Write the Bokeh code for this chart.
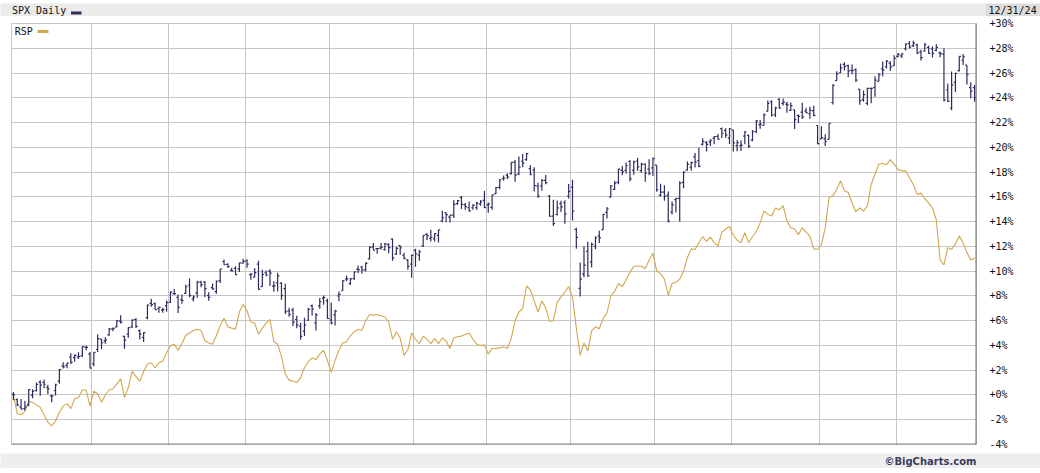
from bokeh.plotting import figure
from bokeh.models import (Range1d, LinearAxis, FixedTicker, Grid, Span,
                          CustomJSTickFormatter, ColumnDataSource)
from bokeh.core.properties import value
from bokeh.embed import file_html
from bokeh.resources import INLINE

# ---------------- data ----------------
# trading days per month, 2024
month_trading_days = [21, 20, 20, 22, 22, 19, 22, 22, 20, 23, 20, 21]
# base for the percent scale: SPX close on the first bar (Jan 2, 2024)
spx_base = 4742.83

spx_open = [
    # Jan
    4745, 4725, 4697, 4691, 4704, 4742, 4760, 4792, 4791, 4772, 4739, 4760, 4796, 4853, 4856, 4888, 4886, 4888, 4893, 4925, 4899,
    # Feb
    4862, 4917, 4957, 4950, 4973, 4996, 5004, 5026, 4967, 4976, 5004, 5032, 4989, 4963, 5038, 5094, 5093, 5074, 5068, 5085,
    # Mar
    5098, 5131, 5117, 5108, 5132, 5164, 5111, 5134, 5174, 5175, 5123, 5154, 5139, 5181, 5254, 5243, 5220, 5228, 5226, 5248,
    # Apr
    5257, 5204, 5194, 5244, 5158, 5211, 5217, 5160, 5172, 5171, 5150, 5065, 5068, 5032, 5006, 4987, 5029, 5085, 5019, 5084, 5114, 5103,
    # May
    5030, 5050, 5122, 5142, 5187, 5169, 5189, 5225, 5233, 5222, 5264, 5310, 5303, 5305, 5299, 5319, 5340, 5282, 5315, 5278, 5260, 5244,
    # Jun
    5297, 5278, 5314, 5358, 5343, 5341, 5354, 5409, 5441, 5424, 5432, 5476, 5500, 5471, 5460, 5460, 5460, 5474, 5488,
    # Jul
    5471, 5461, 5514, 5538, 5572, 5585, 5591, 5635, 5590, 5638, 5644, 5610, 5604, 5543, 5544, 5565, 5505, 5428, 5434, 5476, 5479, 5505,
    # Aug
    5538, 5377, 5151, 5206, 5293, 5253, 5312, 5351, 5376, 5442, 5501, 5530, 5557, 5603, 5603, 5637, 5603, 5639, 5602, 5627, 5608, 5613,
    # Sep
    5623, 5507, 5520, 5507, 5443, 5491, 5496, 5557, 5604, 5615, 5655, 5641, 5703, 5709, 5712, 5727, 5733, 5763, 5756, 5727,
    # Oct
    5758, 5698, 5698, 5734, 5737, 5719, 5752, 5778, 5775, 5830, 5866, 5816, 5875, 5860, 5857, 5833, 5835, 5813, 5826, 5831, 5820, 5832, 5775,
    # Nov
    5724, 5724, 5722, 5863, 5947, 5977, 6009, 6004, 5986, 5989, 5913, 5874, 5860, 5917, 5921, 5944, 5992, 6000, 6014, 6004,
    # Dec
    6040, 6042, 6069, 6089, 6081, 6084, 6057, 6060, 6074, 6068, 6063, 6053, 6048, 5912, 5842, 5940, 5985, 6025, 6006, 5920, 5920,
]

spx_high = [
    4754, 4729, 4727, 4721, 4765, 4765, 4791, 4799, 4802, 4782, 4744, 4786, 4842, 4868, 4866, 4903, 4898, 4906, 4929, 4932, 4907,
    4906, 4975, 4957, 4964, 4999, 5001, 5030, 5048, 4970, 5002, 5033, 5038, 4994, 4983, 5088, 5111, 5097, 5081, 5077, 5105,
    5140, 5149, 5128, 5128, 5165, 5189, 5125, 5180, 5180, 5179, 5136, 5170, 5181, 5225, 5262, 5247, 5230, 5236, 5249, 5264,
    5263, 5209, 5228, 5257, 5222, 5220, 5224, 5178, 5211, 5175, 5169, 5077, 5077, 5046, 5019, 5039, 5077, 5089, 5057, 5114, 5124, 5111,
    5096, 5069, 5139, 5181, 5200, 5191, 5215, 5239, 5238, 5251, 5312, 5325, 5305, 5325, 5325, 5324, 5342, 5311, 5316, 5288, 5263, 5281,
    5303, 5298, 5354, 5362, 5376, 5362, 5376, 5448, 5442, 5432, 5489, 5490, 5505, 5478, 5484, 5473, 5483, 5490, 5524,
    5480, 5510, 5539, 5570, 5583, 5591, 5635, 5643, 5656, 5666, 5670, 5623, 5615, 5556, 5570, 5585, 5509, 5491, 5488, 5487, 5489, 5551,
    5567, 5383, 5250, 5312, 5330, 5327, 5351, 5372, 5436, 5463, 5547, 5562, 5609, 5620, 5633, 5643, 5641, 5651, 5632, 5629, 5646, 5652,
    5623, 5552, 5546, 5522, 5484, 5497, 5561, 5600, 5637, 5637, 5670, 5690, 5726, 5716, 5722, 5735, 5742, 5767, 5764, 5765,
    5758, 5719, 5718, 5753, 5740, 5758, 5796, 5796, 5822, 5871, 5872, 5847, 5879, 5878, 5866, 5863, 5835, 5817, 5862, 5843, 5847, 5851, 5775,
    5772, 5741, 5784, 5933, 5983, 6012, 6017, 6009, 6009, 5993, 5915, 5909, 5920, 5920, 5964, 5976, 6020, 6026, 6021, 6044,
    6053, 6052, 6089, 6099, 6100, 6088, 6065, 6092, 6080, 6078, 6086, 6058, 6071, 5936, 5982, 5978, 6040, 6049, 6006, 5941, 5930,
]

spx_low = [
    4723, 4700, 4688, 4682, 4700, 4730, 4756, 4740, 4769, 4747, 4715, 4741, 4786, 4844, 4845, 4861, 4870, 4881, 4888, 4914, 4845,
    4853, 4907, 4918, 4939, 4970, 4987, 5002, 5017, 4920, 4962, 4999, 4999, 4955, 4946, 5033, 5081, 5069, 5058, 5058, 5062,
    5095, 5127, 5057, 5092, 5131, 5117, 5101, 5115, 5155, 5118, 5104, 5146, 5131, 5172, 5241, 5229, 5216, 5203, 5214, 5246,
    5230, 5184, 5194, 5146, 5157, 5198, 5160, 5138, 5139, 5108, 5053, 5042, 5007, 4998, 4954, 4969, 5027, 5047, 4990, 5073, 5088, 5035,
    5014, 5009, 5102, 5142, 5178, 5165, 5183, 5210, 5207, 5216, 5263, 5297, 5284, 5300, 5295, 5286, 5257, 5279, 5280, 5263, 5222, 5192,
    5234, 5257, 5310, 5336, 5331, 5331, 5327, 5404, 5404, 5403, 5421, 5471, 5455, 5452, 5446, 5452, 5452, 5468, 5459,
    5441, 5452, 5513, 5531, 5563, 5570, 5587, 5560, 5584, 5615, 5640, 5584, 5522, 5497, 5525, 5550, 5427, 5390, 5430, 5444, 5399, 5495,
    5411, 5303, 5120, 5194, 5196, 5231, 5301, 5325, 5376, 5419, 5500, 5528, 5550, 5584, 5591, 5561, 5586, 5602, 5594, 5560, 5584, 5582,
    5521, 5503, 5487, 5403, 5434, 5442, 5406, 5535, 5603, 5602, 5614, 5615, 5698, 5675, 5696, 5703, 5721, 5727, 5728, 5704,
    5675, 5676, 5677, 5703, 5689, 5715, 5745, 5763, 5775, 5829, 5809, 5808, 5840, 5852, 5824, 5831, 5762, 5785, 5800, 5823, 5801, 5810, 5703,
    5723, 5696, 5722, 5855, 5947, 5976, 5986, 5960, 5971, 5942, 5854, 5866, 5853, 5860, 5885, 5944, 5964, 5993, 5985, 6004,
    6035, 6034, 6062, 6070, 6076, 6048, 6024, 6059, 6050, 6035, 6059, 6036, 5867, 5866, 5833, 5903, 5982, 6007, 5932, 5879, 5866,
]

spx_close = [
    4742.83, 4704.81, 4688.68, 4697.24, 4763.54, 4756.50, 4783.45, 4780.24, 4783.83, 4765.98, 4739.21, 4780.94, 4839.81, 4850.43, 4864.60, 4868.55, 4894.16, 4890.97, 4927.93, 4924.97, 4845.65,
    4906.19, 4958.61, 4942.81, 4954.23, 4995.06, 4997.91, 5026.61, 5021.84, 4953.17, 5000.62, 5029.73, 5005.57, 4975.51, 4981.80, 5087.03, 5088.80, 5069.53, 5078.18, 5069.76, 5096.27,
    5137.08, 5130.95, 5078.65, 5104.76, 5157.36, 5123.69, 5117.94, 5175.27, 5165.31, 5150.48, 5117.09, 5149.42, 5178.51, 5224.62, 5241.53, 5234.18, 5218.19, 5203.58, 5248.49, 5254.35,
    5243.77, 5205.81, 5211.49, 5147.21, 5204.34, 5202.39, 5209.91, 5160.64, 5199.06, 5123.41, 5061.82, 5051.41, 5022.21, 5011.12, 4967.23, 5010.60, 5070.55, 5071.63, 5048.42, 5099.96, 5116.17, 5035.69,
    5018.39, 5064.20, 5127.79, 5180.74, 5187.70, 5187.67, 5214.08, 5222.68, 5221.42, 5246.68, 5308.15, 5297.10, 5303.27, 5308.13, 5321.41, 5307.01, 5267.84, 5304.72, 5306.04, 5266.95, 5235.48, 5277.51,
    5283.40, 5291.34, 5354.03, 5352.96, 5346.99, 5360.79, 5375.32, 5421.03, 5433.74, 5431.60, 5473.23, 5487.03, 5473.17, 5464.62, 5447.87, 5469.30, 5477.90, 5482.87, 5460.48,
    5475.09, 5509.01, 5537.02, 5567.19, 5572.85, 5576.98, 5633.91, 5584.54, 5615.35, 5631.22, 5667.20, 5588.27, 5544.59, 5505.00, 5564.41, 5555.74, 5427.13, 5399.22, 5459.10, 5463.54, 5436.44, 5522.30,
    5446.68, 5346.56, 5186.33, 5240.03, 5199.50, 5319.31, 5344.16, 5344.39, 5434.43, 5455.21, 5543.22, 5554.25, 5608.25, 5597.12, 5620.85, 5570.64, 5634.61, 5616.84, 5625.80, 5592.18, 5591.96, 5648.40,
    5528.93, 5520.07, 5503.41, 5408.42, 5471.05, 5495.52, 5554.13, 5595.76, 5626.02, 5633.09, 5634.58, 5618.26, 5713.64, 5702.55, 5718.57, 5732.93, 5722.26, 5745.37, 5738.17, 5762.48,
    5708.75, 5709.54, 5699.94, 5751.07, 5695.94, 5751.13, 5792.04, 5780.05, 5815.03, 5859.85, 5815.26, 5842.47, 5841.47, 5864.67, 5853.98, 5851.20, 5797.42, 5809.86, 5808.12, 5823.52, 5832.92, 5813.67, 5705.45,
    5728.80, 5712.69, 5782.76, 5929.04, 5973.10, 5995.54, 6001.35, 5983.99, 5985.38, 5949.17, 5870.62, 5893.62, 5916.98, 5917.11, 5948.71, 5969.34, 5987.37, 6021.63, 5998.74, 6032.38,
    6047.15, 6049.88, 6086.49, 6075.11, 6090.27, 6052.85, 6034.91, 6084.19, 6051.25, 6051.09, 6074.08, 6050.61, 5872.16, 5867.08, 5930.85, 5974.07, 6040.04, 6037.59, 5970.84, 5906.94, 5881.63,
]

# RSP, percent change since the first bar
rsp_pct = [
    0.0, -1.5, -1.6, -1.3, -0.5, -0.6, -0.8, -1.0, -1.6, -2.2,
    -2.5, -2.1, -1.4, -0.9, -0.7, -1.1, -0.3, -0.2, 0.4, 0.4,
    -0.9, 0.3, 0.1, -0.6, 0.0, 0.4, 0.5, 0.9, 1.3, -0.2,
    0.6, 1.9, 1.5, 1.1, 1.9, 2.5, 2.6, 2.2, 2.6, 2.75,
    3.4, 4.0, 4.1, 3.6, 4.15, 4.8, 5.0, 5.2, 5.3, 5.2,
    4.4, 4.2, 4.1, 4.8, 5.6, 6.2, 5.5, 5.4, 5.3, 6.7,
    7.3, 6.8, 5.9, 5.8, 4.9, 5.4, 5.8, 6.1, 4.3, 4.1,
    3.1, 1.7, 1.2, 1.1, 1.0, 1.4, 2.2, 2.7, 3.0, 2.85,
    3.3, 3.6, 2.8, 1.85, 2.8, 3.6, 4.2, 4.3, 4.8, 5.1,
    5.3, 5.2, 6.0, 6.5, 6.45, 6.5, 6.4, 6.3, 5.9, 4.5,
    5.1, 4.6, 3.2, 3.65, 5.0, 4.5, 4.15, 4.75, 4.5, 4.15,
    4.55, 4.15, 4.6, 4.35, 3.75, 4.6, 4.7, 4.75, 4.9, 5.0,
    4.5, 4.1, 4.0, 4.05, 3.3, 3.75, 3.75, 3.8, 3.9, 3.75,
    4.55, 6.0, 6.7, 7.0, 8.8, 8.5, 7.6, 6.7, 7.6, 7.05,
    5.95, 6.0, 7.5, 7.9, 8.3, 8.75, 7.9, 5.4, 3.2, 4.2,
    3.55, 5.2, 5.5, 5.35, 6.2, 6.6, 8.0, 8.35, 9.0, 8.75,
    9.3, 9.9, 10.4, 10.4, 10.4, 10.2, 10.9, 11.45, 10.0, 9.8,
    9.35, 8.05, 9.0, 9.1, 9.35, 10.0, 11.1, 11.8, 11.75, 12.3,
    12.8, 12.4, 12.75, 12.3, 12.05, 13.15, 13.4, 13.6, 12.9, 12.5,
    12.3, 13.1, 12.3, 12.8, 13.2, 13.9, 14.85, 14.6, 14.45, 15.1,
    14.95, 15.3, 14.05, 13.5, 13.4, 12.95, 13.5, 13.15, 12.8, 11.8,
    11.75, 12.15, 13.5, 15.95, 16.1, 16.6, 17.3, 16.5, 16.35, 15.5,
    14.8, 15.1, 14.85, 15.25, 17.0, 17.85, 18.65, 18.7, 18.6, 19.0,
    18.65, 18.2, 18.1, 18.1, 17.55, 17.0, 16.2, 16.3, 15.85, 15.5,
    15.1, 14.15, 10.9, 10.5, 11.9, 11.75, 12.2, 12.85, 12.3, 11.5,
    10.9, 11.05,
]

y_ticks = list(range(-4, 31, 2))
header_title = "SPX Daily"
compare_title = "RSP"
end_date = "12/31/24"
credit = "\u00a9BigCharts.com"

# ---------------- styles ----------------
NAVY = "#2c2c5e"
GOLD = "#d2a74e"
GRID = "#c6c6c6"
MONO = "DejaVu Sans Mono"

n = len(spx_close)
assert all(len(a) == n for a in (spx_open, spx_high, spx_low, rsp_pct))
assert sum(month_trading_days) == n

def pct(v):
    return (v / spx_base - 1.0) * 100.0

x = [i + 0.5 for i in range(n)]
tick = 0.45
src = ColumnDataSource(dict(
    x=x,
    xl=[v - tick for v in x],
    xr=[v + tick for v in x],
    o=[pct(v) for v in spx_open],
    h=[pct(v) for v in spx_high],
    l=[pct(v) for v in spx_low],
    c=[pct(v) for v in spx_close],
    rsp=rsp_pct,
))

month_bounds = []
acc = 0
for d in month_trading_days[:-1]:
    acc += d
    month_bounds.append(acc)

W, H = 1040, 473
FL, FR, FT, FB = 11, 976, 23, 444   # frame edges in page pixels

p = figure(width=W, height=H, x_range=Range1d(0, n), y_range=Range1d(-4, 30),
           x_axis_type=None, y_axis_type=None, output_backend="svg", toolbar_location=None,
           min_border_left=FL, min_border_right=W - FR, min_border_top=FT, min_border_bottom=H - FB,
           outline_line_color=GRID, background_fill_color="white", border_fill_color="white")

yaxis = LinearAxis(
    ticker=FixedTicker(ticks=y_ticks),
    formatter=CustomJSTickFormatter(code="return (tick >= 0 ? '+' : '') + tick.toFixed(0) + '%';"),
    axis_line_color=None, major_tick_line_color=None, minor_tick_line_color=None,
    major_tick_in=0, major_tick_out=0, major_label_standoff=13,
    major_label_text_font=MONO, major_label_text_font_size="10px",
    major_label_text_color="#111111",
)
p.add_layout(yaxis, "right")

p.add_layout(Grid(dimension=1, ticker=FixedTicker(ticks=y_ticks), grid_line_color=GRID))
p.add_layout(Grid(dimension=0, ticker=FixedTicker(ticks=month_bounds), grid_line_color=GRID))

p.line("x", "rsp", source=src, line_color=GOLD, line_width=1.1)
p.segment("x", "l", "x", "h", source=src, line_color=NAVY, line_width=1.2)
p.segment("xl", "o", "x", "o", source=src, line_color=NAVY, line_width=1.2)
p.segment("x", "c", "xr", "c", source=src, line_color=NAVY, line_width=1.2)

p.add_layout(Span(location=-4, dimension="width", line_color="#858585", line_width=2))
p.add_layout(Span(location=n, dimension="height", line_color="#707070", line_width=2))

# page pixel -> data helpers for the decorations around the frame
def px_x(px):
    return (px - FL) / (FR - FL) * n

def px_y(py):
    return 30 - (py - FT) / (FB - FT) * 34

# header bar, date box, footer bar (overlay level: drawn outside the frame)
p.quad(left=[px_x(0), px_x(985), px_x(0)], right=[px_x(985), px_x(W), px_x(W)],
       top=[px_y(3), px_y(3), px_y(453)], bottom=[px_y(15.5), px_y(15.5), px_y(467.5)],
       fill_color=["#ebebeb", "#dcdcdc", "#eeeeee"], line_color=None, level="overlay")

p.text(x=[px_x(11.5), px_x(988)], y=[px_y(9.8), px_y(9.8)], text=[header_title, end_date],
       text_font=value(MONO), text_font_size="10px", text_baseline="middle",
       text_color="#111111", level="overlay")
p.segment(x0=[px_x(70.5)], y0=[px_y(12.5)], x1=[px_x(81)], y1=[px_y(12.5)],
          line_color=NAVY, line_width=3, level="overlay")
p.text(x=[px_x(976)], y=[px_y(460.5)], text=[credit], text_font=value("DejaVu Sans"),
       text_font_size="10px", text_font_style="bold", text_align="right",
       text_baseline="middle", text_color="#3a3c5c", level="overlay")

# legend entry inside the frame
p.text(x=[px_x(14.3)], y=[px_y(30.7)], text=[compare_title], text_font=value(MONO),
       text_font_size="10px", text_baseline="middle", text_color="#111111")
p.segment(x0=[px_x(37)], y0=[px_y(31)], x1=[px_x(48)], y1=[px_y(31)], line_color=GOLD, line_width=3)

open("out.html", "w").write(file_html(p, INLINE))
